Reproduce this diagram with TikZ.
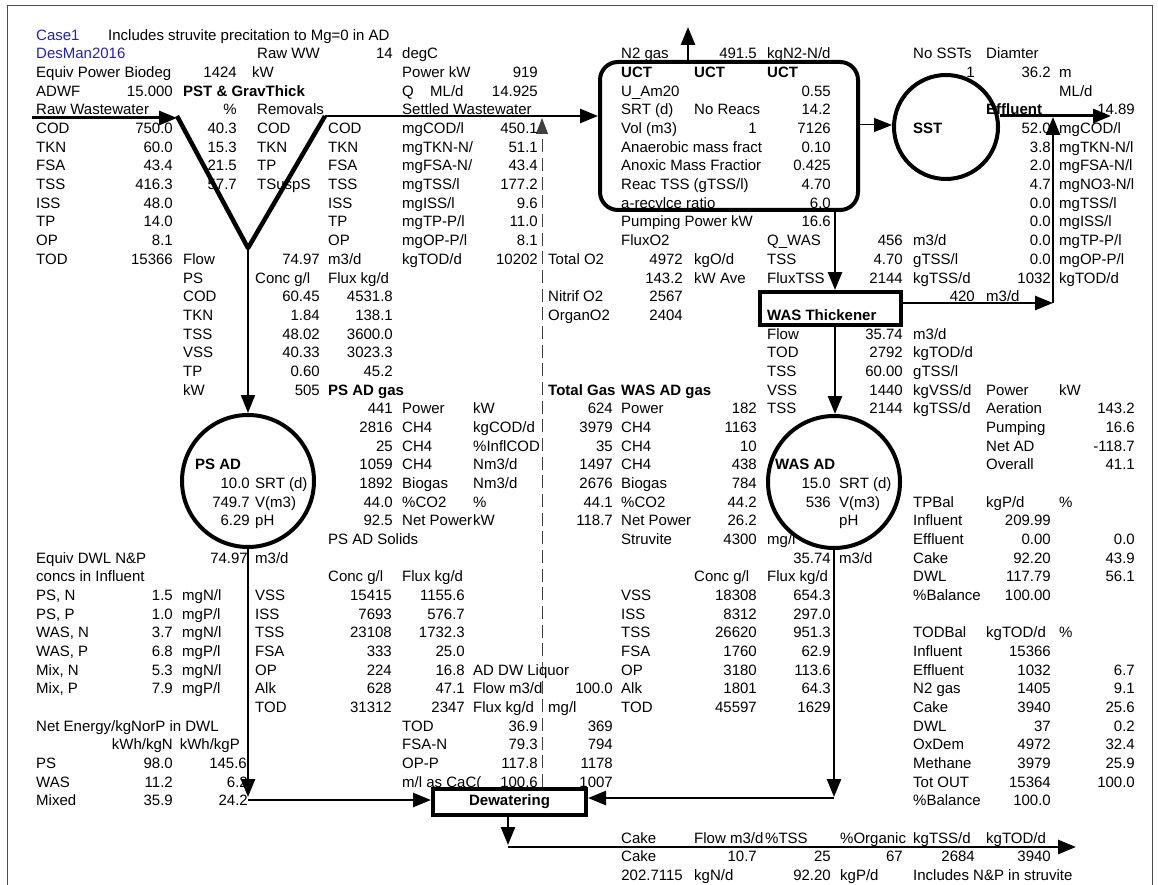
\documentclass[tikz,border=0pt]{standalone}
\usepackage{fontspec}
\setmainfont{Liberation Sans}
\usetikzlibrary{arrows.meta}
\definecolor{titleblue}{RGB}{35,35,170}
\newcounter{tn}
\newcommand\Lx[3]{\stepcounter{tn}\node[tl] (t\thetn) at ({#1},{40.3+(#2-1)*18.67}) {#3};}
\newcommand\Rx[3]{\stepcounter{tn}\node[tr] (t\thetn) at ({#1},{40.3+(#2-1)*18.67}) {#3};}
\tikzset{
  tl/.style={anchor=base west, inner sep=0pt, font=\fontsize{15}{18}\selectfont},
  tr/.style={anchor=base east, inner sep=0pt, font=\fontsize{15}{18}\selectfont},
  tip/.style={-{Triangle[length=18pt,width=14pt]}},
  conn/.style={tip, line width=2.6pt},
  thinconn/.style={tip, line width=1pt},
  vshape/.style={line width=4.5pt, line join=round},
  unit/.style={draw, line width=4pt, inner sep=0pt},
  liquor/.style={-{Triangle[length=16pt,width=12pt]}, line width=1pt, draw=black!75, dash pattern=on 13pt off 5.67pt},
  frame/.style={draw=black!70, line width=0.8pt}
}
\begin{document}
\begin{tikzpicture}[x=1pt,y=-1pt]
\fill[white] (0,0) rectangle (1158,885);
\useasboundingbox (0,0) rectangle (1158,885);
\draw[frame] (7,885) -- (7,5) -- (1152,5) -- (1152,885);

% ---------- process units ----------
\node[unit, circle, minimum size=132pt] (psad) at (248,481) {};
\node[unit, circle, minimum size=132pt] (wasad) at (834,482) {};
\node[unit, circle, minimum size=104pt] (sst) at (946,127) {};
\node[unit, rectangle, rounded corners=18pt, minimum width=258pt, minimum height=148pt] (uct) at (729,136) {};
\node[unit, rectangle, minimum width=141pt, minimum height=33pt] (wast) at (830.5,308.5) {};
\node[unit, rectangle, minimum width=153pt, minimum height=26pt, font=\fontsize{15}{18}\selectfont\bfseries] (dew) at (509.5,802) {Dewatering};

% ---------- coordinates ----------
\coordinate (rawin) at (32,118);
\coordinate (vl) at (177,116);
\coordinate (vb) at (248,248);
\coordinate (vr) at (325,116);
\coordinate (n2x) at (688,27);
\coordinate (ucts) at (858,125);
\coordinate (effout) at (1111,116);
\coordinate (wx) at (835,0);
\coordinate (rj) at (1053,303);
\coordinate (rjt) at (1053,117);
\coordinate (psd) at (248,797);
\coordinate (psd2) at (248,800);
\coordinate (wsd) at (834,797);
\coordinate (wsd2) at (834,798);
\coordinate (dx) at (508,845);
\coordinate (dx2) at (508,847);
\coordinate (cakeout) at (1076,847);
\coordinate (lqx) at (542,118);

% ---------- connectors ----------
\draw[conn, line width=3pt] (rawin) -- (vl |- rawin);
\draw[vshape] (vl) -- (vb) -- (vr);
\draw[conn] (vr) -- (vr -| uct.west);
\draw[conn, line width=2pt] (vb) -- (psad.north);
\draw[conn] (n2x |- uct.north) -- (n2x);
\draw[thinconn] (ucts) -- (ucts -| sst.west);
\draw[conn, line width=3pt] ([yshift=11pt]sst.east) -- (effout);
\draw[conn] (uct.south -| wx) -- (wast.north -| wx);
\draw[conn] (wast.south -| wx) -- (wasad.north -| wx);
\draw[conn] (wast.east |- rj) -- (rj);
\draw[conn] (rj) -- (rjt);
\draw[conn] (psad.south) -- (psd);
\draw[conn] (psd2) -- (psd2 -| dew.west);
\draw[conn] (wasad.south) -- (wsd);
\draw[conn] (wsd2) -- (wsd2 -| dew.east);
\draw[conn] (dew.south -| dx) -- (dx);
\draw[conn] (dx2) -- (cakeout);
\draw[liquor] (dew.north -| lqx) -- (lqx);

% ---------- text ----------
% row 1
\Lx{36}{1}{\color{titleblue}Case1}
\Lx{108}{1}{Includes struvite precitation to Mg=0 in AD}
% row 2
\Lx{36}{2}{\color{titleblue}DesMan2016}
\Lx{257}{2}{Raw WW}
\Rx{393}{2}{14}
\Lx{402}{2}{degC}
\Lx{621}{2}{N2 gas}
\Rx{757}{2}{491.5}
\Lx{767}{2}{kgN2-N/d}
\Lx{913}{2}{No SSTs}
\Lx{986}{2}{Diamter}
% row 3
\Lx{36}{3}{Equiv Power Biodeg}
\Rx{237}{3}{1424}
\Lx{252}{3}{kW}
\Lx{402}{3}{Power kW}
\Rx{538}{3}{919}
\Lx{621}{3}{\textbf{UCT}}
\Lx{694}{3}{\textbf{UCT}}
\Lx{767}{3}{\textbf{UCT}}
\Rx{975}{3}{1}
\Rx{1051}{3}{36.2}
\Lx{1059}{3}{m}
% row 4
\Lx{36}{4}{ADWF}
\Rx{173}{4}{15.000}
\Lx{183}{4}{\textbf{PST \& GravThick}}
\Lx{402}{4}{Q}
\Lx{430}{4}{ML/d}
\Rx{538}{4}{14.925}
\Lx{621}{4}{U\_Am20}
\Rx{831}{4}{0.55}
\Lx{1059}{4}{ML/d}
% row 5
\Lx{36}{5}{Raw Wastewater}
\Rx{237}{5}{\%}
\Lx{257}{5}{Removals}
\Lx{402}{5}{Settled Wastewater}
\Lx{621}{5}{SRT (d)}
\Lx{694}{5}{No Reacs}
\Rx{831}{5}{14.2}
\Lx{986}{5}{\textbf{Effluent}}
\Rx{1135}{5}{14.89}
% row 6
\Lx{36}{6}{COD}\Rx{173}{6}{750.0}\Rx{237}{6}{40.3}\Lx{257}{6}{COD}
\Lx{328}{6}{COD}\Lx{402}{6}{mgCOD/l}\Rx{538}{6}{450.1}
\Lx{621}{6}{Vol (m3)}\Rx{757}{6}{1}\Rx{831}{6}{7126}
\Lx{913}{6}{\textbf{SST}}\Rx{1051}{6}{52.0}\Lx{1059}{6}{mgCOD/l}
% row 7
\Lx{36}{7}{TKN}\Rx{173}{7}{60.0}\Rx{237}{7}{15.3}\Lx{257}{7}{TKN}
\Lx{328}{7}{TKN}\Lx{402}{7}{mgTKN-N/}\Rx{538}{7}{51.1}
\Lx{621}{7}{Anaerobic mass fract}\Rx{831}{7}{0.10}
\Rx{1051}{7}{3.8}\Lx{1059}{7}{mgTKN-N/l}
% row 8
\Lx{36}{8}{FSA}\Rx{173}{8}{43.4}\Rx{237}{8}{21.5}\Lx{257}{8}{TP}
\Lx{328}{8}{FSA}\Lx{402}{8}{mgFSA-N/}\Rx{538}{8}{43.4}
\Lx{621}{8}{Anoxic Mass Fractior}\Rx{831}{8}{0.425}
\Rx{1051}{8}{2.0}\Lx{1059}{8}{mgFSA-N/l}
% row 9
\Lx{36}{9}{TSS}\Rx{173}{9}{416.3}\Rx{237}{9}{57.7}\Lx{257}{9}{TSuspS}
\Lx{328}{9}{TSS}\Lx{402}{9}{mgTSS/l}\Rx{538}{9}{177.2}
\Lx{621}{9}{Reac TSS (gTSS/l)}\Rx{831}{9}{4.70}
\Rx{1051}{9}{4.7}\Lx{1059}{9}{mgNO3-N/l}
% row 10
\Lx{36}{10}{ISS}\Rx{173}{10}{48.0}
\Lx{328}{10}{ISS}\Lx{402}{10}{mgISS/l}\Rx{538}{10}{9.6}
\Lx{621}{10}{a-recylce ratio}\Rx{831}{10}{6.0}
\Rx{1051}{10}{0.0}\Lx{1059}{10}{mgTSS/l}
% row 11
\Lx{36}{11}{TP}\Rx{173}{11}{14.0}
\Lx{328}{11}{TP}\Lx{402}{11}{mgTP-P/l}\Rx{538}{11}{11.0}
\Lx{621}{11}{Pumping Power kW}\Rx{831}{11}{16.6}
\Rx{1051}{11}{0.0}\Lx{1059}{11}{mgISS/l}
% row 12
\Lx{36}{12}{OP}\Rx{173}{12}{8.1}
\Lx{328}{12}{OP}\Lx{402}{12}{mgOP-P/l}\Rx{538}{12}{8.1}
\Lx{621}{12}{FluxO2}\Lx{767}{12}{Q\_WAS}\Rx{903}{12}{456}\Lx{913}{12}{m3/d}
\Rx{1051}{12}{0.0}\Lx{1059}{12}{mgTP-P/l}
% row 13
\Lx{36}{13}{TOD}\Rx{173}{13}{15366}\Lx{183}{13}{Flow}\Rx{320}{13}{74.97}\Lx{328}{13}{m3/d}
\Lx{402}{13}{kgTOD/d}\Rx{538}{13}{10202}\Lx{548}{13}{Total O2}\Rx{683}{13}{4972}\Lx{694}{13}{kgO/d}
\Lx{767}{13}{TSS}\Rx{903}{13}{4.70}\Lx{913}{13}{gTSS/l}\Rx{1051}{13}{0.0}\Lx{1059}{13}{mgOP-P/l}
% row 14
\Lx{183}{14}{PS}\Lx{255}{14}{Conc g/l}\Lx{328}{14}{Flux kg/d}
\Rx{683}{14}{143.2}\Lx{694}{14}{kW Ave}\Lx{767}{14}{FluxTSS}\Rx{903}{14}{2144}\Lx{913}{14}{kgTSS/d}
\Rx{1051}{14}{1032}\Lx{1059}{14}{kgTOD/d}
% row 15
\Lx{183}{15}{COD}\Rx{320}{15}{60.45}\Rx{393}{15}{4531.8}
\Lx{548}{15}{Nitrif O2}\Rx{683}{15}{2567}\Rx{975}{15}{420}\Lx{986}{15}{m3/d}
% row 16
\Lx{183}{16}{TKN}\Rx{320}{16}{1.84}\Rx{393}{16}{138.1}
\Lx{548}{16}{OrganO2}\Rx{683}{16}{2404}\Lx{767}{16}{\textbf{WAS Thickener}}
% row 17
\Lx{183}{17}{TSS}\Rx{320}{17}{48.02}\Rx{393}{17}{3600.0}
\Lx{767}{17}{Flow}\Rx{903}{17}{35.74}\Lx{913}{17}{m3/d}
% row 18
\Lx{183}{18}{VSS}\Rx{320}{18}{40.33}\Rx{393}{18}{3023.3}
\Lx{767}{18}{TOD}\Rx{903}{18}{2792}\Lx{913}{18}{kgTOD/d}
% row 19
\Lx{183}{19}{TP}\Rx{320}{19}{0.60}\Rx{393}{19}{45.2}
\Lx{767}{19}{TSS}\Rx{903}{19}{60.00}\Lx{913}{19}{gTSS/l}
% row 20
\Lx{183}{20}{kW}\Rx{320}{20}{505}\Lx{328}{20}{\textbf{PS AD gas}}
\Lx{548}{20}{\textbf{Total Gas}}\Lx{621}{20}{\textbf{WAS AD gas}}
\Lx{767}{20}{VSS}\Rx{903}{20}{1440}\Lx{913}{20}{kgVSS/d}\Lx{986}{20}{Power}\Lx{1059}{20}{kW}
% row 21
\Rx{393}{21}{441}\Lx{402}{21}{Power}\Lx{473}{21}{kW}\Rx{613}{21}{624}\Lx{621}{21}{Power}\Rx{757}{21}{182}
\Lx{767}{21}{TSS}\Rx{903}{21}{2144}\Lx{913}{21}{kgTSS/d}\Lx{986}{21}{Aeration}\Rx{1135}{21}{143.2}
% row 22
\Rx{393}{22}{2816}\Lx{402}{22}{CH4}\Lx{473}{22}{kgCOD/d}\Rx{613}{22}{3979}\Lx{621}{22}{CH4}\Rx{757}{22}{1163}
\Lx{986}{22}{Pumping}\Rx{1135}{22}{16.6}
% row 23
\Rx{393}{23}{25}\Lx{402}{23}{CH4}\Lx{473}{23}{\%InflCOD}\Rx{613}{23}{35}\Lx{621}{23}{CH4}\Rx{757}{23}{10}
\Lx{986}{23}{Net AD}\Rx{1135}{23}{-118.7}
% row 24
\Lx{195}{24}{\textbf{PS AD}}
\Rx{393}{24}{1059}\Lx{402}{24}{CH4}\Lx{473}{24}{Nm3/d}\Rx{613}{24}{1497}\Lx{621}{24}{CH4}\Rx{757}{24}{438}
\Lx{775}{24}{\textbf{WAS AD}}\Lx{986}{24}{Overall}\Rx{1135}{24}{41.1}
% row 25
\Rx{250}{25}{10.0}\Lx{255}{25}{SRT (d)}
\Rx{393}{25}{1892}\Lx{402}{25}{Biogas}\Lx{473}{25}{Nm3/d}\Rx{613}{25}{2676}\Lx{621}{25}{Biogas}\Rx{757}{25}{784}
\Rx{831}{25}{15.0}\Lx{839}{25}{SRT (d)}
% row 26
\Rx{250}{26}{749.7}\Lx{255}{26}{V(m3)}
\Rx{393}{26}{44.0}\Lx{402}{26}{\%CO2}\Lx{473}{26}{\%}\Rx{613}{26}{44.1}\Lx{621}{26}{\%CO2}\Rx{757}{26}{44.2}
\Rx{831}{26}{536}\Lx{839}{26}{V(m3)}\Lx{913}{26}{TPBal}\Lx{986}{26}{kgP/d}\Lx{1059}{26}{\%}
% row 27
\Rx{250}{27}{6.29}\Lx{255}{27}{pH}
\Rx{393}{27}{92.5}\Lx{402}{27}{Net Power}\Lx{473}{27}{kW}\Rx{613}{27}{118.7}\Lx{621}{27}{Net Power}\Rx{757}{27}{26.2}
\Lx{839}{27}{pH}\Lx{913}{27}{Influent}\Rx{1051}{27}{209.99}
% row 28
\Lx{328}{28}{PS AD Solids}\Lx{621}{28}{Struvite}\Rx{757}{28}{4300}\Lx{767}{28}{mg/l}
\Lx{913}{28}{Effluent}\Rx{1051}{28}{0.00}\Rx{1135}{28}{0.0}
% row 29
\Lx{36}{29}{Equiv DWL N\&P}\Rx{248}{29}{74.97}\Lx{255}{29}{m3/d}
\Rx{831}{29}{35.74}\Lx{839}{29}{m3/d}\Lx{913}{29}{Cake}\Rx{1051}{29}{92.20}\Rx{1135}{29}{43.9}
% row 30
\Lx{36}{30}{concs in Influent}\Lx{328}{30}{Conc g/l}\Lx{402}{30}{Flux kg/d}
\Lx{694}{30}{Conc g/l}\Lx{767}{30}{Flux kg/d}\Lx{913}{30}{DWL}\Rx{1051}{30}{117.79}\Rx{1135}{30}{56.1}
% row 31
\Lx{36}{31}{PS, N}\Rx{173}{31}{1.5}\Lx{182}{31}{mgN/l}
\Lx{255}{31}{VSS}\Rx{392}{31}{15415}\Rx{465}{31}{1155.6}
\Lx{621}{31}{VSS}\Rx{757}{31}{18308}\Rx{831}{31}{654.3}\Lx{913}{31}{\%Balance}\Rx{1051}{31}{100.00}
% row 32
\Lx{36}{32}{PS, P}\Rx{173}{32}{1.0}\Lx{182}{32}{mgP/l}
\Lx{255}{32}{ISS}\Rx{392}{32}{7693}\Rx{465}{32}{576.7}
\Lx{621}{32}{ISS}\Rx{757}{32}{8312}\Rx{831}{32}{297.0}
% row 33
\Lx{36}{33}{WAS, N}\Rx{173}{33}{3.7}\Lx{182}{33}{mgN/l}
\Lx{255}{33}{TSS}\Rx{392}{33}{23108}\Rx{465}{33}{1732.3}
\Lx{621}{33}{TSS}\Rx{757}{33}{26620}\Rx{831}{33}{951.3}
\Lx{913}{33}{TODBal}\Lx{986}{33}{kgTOD/d}\Lx{1059}{33}{\%}
% row 34
\Lx{36}{34}{WAS, P}\Rx{173}{34}{6.8}\Lx{182}{34}{mgP/l}
\Lx{255}{34}{FSA}\Rx{392}{34}{333}\Rx{465}{34}{25.0}
\Lx{621}{34}{FSA}\Rx{757}{34}{1760}\Rx{831}{34}{62.9}
\Lx{913}{34}{Influent}\Rx{1051}{34}{15366}
% row 35
\Lx{36}{35}{Mix, N}\Rx{173}{35}{5.3}\Lx{182}{35}{mgN/l}
\Lx{255}{35}{OP}\Rx{392}{35}{224}\Rx{465}{35}{16.8}\Lx{473}{35}{AD DW Liquor}
\Lx{621}{35}{OP}\Rx{757}{35}{3180}\Rx{831}{35}{113.6}
\Lx{913}{35}{Effluent}\Rx{1051}{35}{1032}\Rx{1135}{35}{6.7}
% row 36
\Lx{36}{36}{Mix, P}\Rx{173}{36}{7.9}\Lx{182}{36}{mgP/l}
\Lx{255}{36}{Alk}\Rx{392}{36}{628}\Rx{465}{36}{47.1}\Lx{473}{36}{Flow m3/d}\Rx{613}{36}{100.0}
\Lx{621}{36}{Alk}\Rx{757}{36}{1801}\Rx{831}{36}{64.3}
\Lx{913}{36}{N2 gas}\Rx{1051}{36}{1405}\Rx{1135}{36}{9.1}
% row 37
\Lx{255}{37}{TOD}\Rx{392}{37}{31312}\Rx{465}{37}{2347}\Lx{473}{37}{Flux kg/d}\Lx{548}{37}{mg/l}
\Lx{621}{37}{TOD}\Rx{757}{37}{45597}\Rx{831}{37}{1629}
\Lx{913}{37}{Cake}\Rx{1051}{37}{3940}\Rx{1135}{37}{25.6}
% row 38
\Lx{36}{38}{Net Energy/kgNorP in DWL}
\Lx{402}{38}{TOD}\Rx{538}{38}{36.9}\Rx{613}{38}{369}
\Lx{913}{38}{DWL}\Rx{1051}{38}{37}\Rx{1135}{38}{0.2}
% row 39
\Rx{173}{39}{kWh/kgN}\Rx{240}{39}{kWh/kgP}
\Lx{402}{39}{FSA-N}\Rx{538}{39}{79.3}\Rx{613}{39}{794}
\Lx{913}{39}{OxDem}\Rx{1051}{39}{4972}\Rx{1135}{39}{32.4}
% row 40
\Lx{36}{40}{PS}\Rx{173}{40}{98.0}\Rx{247}{40}{145.6}
\Lx{402}{40}{OP-P}\Rx{538}{40}{117.8}\Rx{613}{40}{1178}
\Lx{913}{40}{Methane}\Rx{1051}{40}{3979}\Rx{1135}{40}{25.9}
% row 41
\Lx{36}{41}{WAS}\Rx{173}{41}{11.2}\Rx{248}{41}{6.2}
\Lx{402}{41}{m/l as CaC(}\Rx{538}{41}{100.6}\Rx{613}{41}{1007}
\Lx{913}{41}{Tot OUT}\Rx{1051}{41}{15364}\Rx{1135}{41}{100.0}
% row 42
\Lx{36}{42}{Mixed}\Rx{173}{42}{35.9}\Rx{248}{42}{24.2}
\Lx{913}{42}{\%Balance}\Rx{1051}{42}{100.0}
% row 44
\Lx{621}{44}{Cake}\Lx{694}{44}{Flow m3/d}\Lx{765}{44}{\%TSS}\Lx{840}{44}{\%Organic}
\Lx{913}{44}{kgTSS/d}\Lx{986}{44}{kgTOD/d}
% row 45
\Lx{621}{45}{Cake}\Rx{757}{45}{10.7}\Rx{831}{45}{25}\Rx{903}{45}{67}\Rx{975}{45}{2684}\Rx{1051}{45}{3940}
% row 46
\Rx{683}{46}{202.7115}\Lx{694}{46}{kgN/d}\Rx{831}{46}{92.20}\Lx{840}{46}{kgP/d}
\Lx{913}{46}{Includes N\&P in struvite}
\end{tikzpicture}
\end{document}
